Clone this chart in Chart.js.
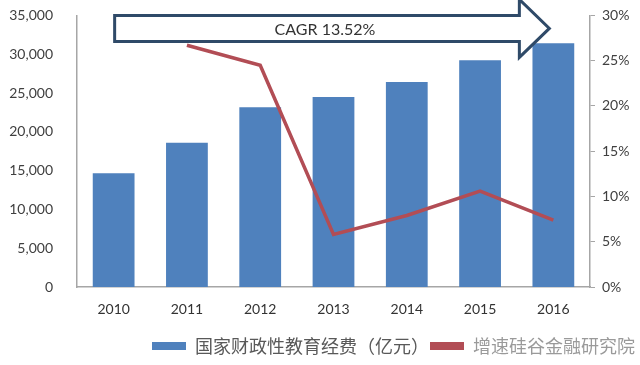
<!DOCTYPE html>
<html>
<head>
<meta charset="utf-8">
<script src="https://cdn.jsdelivr.net/npm/chart.js@4"></script>
<style>
  html, body { margin: 0; padding: 0; background: #fff; }
  #wrap { width: 640px; height: 365px; }
</style>
</head>
<body>
<div id="wrap"><canvas id="c" width="640" height="365"></canvas></div>
<script>
const years = ["2010", "2011", "2012", "2013", "2014", "2015", "2016"];
const funding = [14670, 18587, 23148, 24488, 26421, 29221, 31396];
const growth = [null, 26.7, 24.5, 5.8, 7.9, 10.6, 7.4];
const fundingLabel = "国家财政性教育经费（亿元）";
const growthLabel = "增速硅谷金融研究院";
const cagrText = "CAGR 13.52%";

const tickFont = { family: "Lato, 'Open Sans', sans-serif", size: 14 };
const axisGray = "#a6a6a6";

// big outlined arrow over the top of the plot
const arrowPlugin = {
    id: "cagrArrow",
    afterDatasetsDraw(chart) {
        const ctx = chart.ctx;
        const x = chart.scales.x;
        const area = chart.chartArea;
        const left = x.getPixelForValue(0) + 1;
        const tip = x.getPixelForValue(6) - 4;
        const headBase = tip - 30;
        const top = area.top;
        const bottom = area.top + 26;
        const mid = (top + bottom) / 2;
        const headHalf = 29;

        ctx.save();
        ctx.beginPath();
        ctx.moveTo(left, top);
        ctx.lineTo(headBase, top);
        ctx.lineTo(headBase, mid - headHalf);
        ctx.lineTo(tip, mid);
        ctx.lineTo(headBase, mid + headHalf);
        ctx.lineTo(headBase, bottom);
        ctx.lineTo(left, bottom);
        ctx.closePath();
        ctx.fillStyle = "#ffffff";
        ctx.fill();
        ctx.lineWidth = 3;
        ctx.strokeStyle = "#2f4a68";
        ctx.lineJoin = "miter";
        ctx.stroke();

        ctx.fillStyle = "#333333";
        ctx.font = "16px Lato, 'Open Sans', sans-serif";
        ctx.textAlign = "center";
        ctx.textBaseline = "middle";
        ctx.fillText(cagrText, (left + headBase) / 2 + 8, mid + 1);
        ctx.restore();
    }
};

new Chart(document.getElementById("c"), {
    type: "bar",
    data: {
        labels: years,
        datasets: [
            {
                type: "line",
                label: growthLabel,
                data: growth,
                yAxisID: "y1",
                borderColor: "#b24d55",
                backgroundColor: "#b24d55",
                borderWidth: 3.5,
                pointRadius: 0,
                tension: 0,
                order: 1
            },
            {
                type: "bar",
                label: fundingLabel,
                data: funding,
                yAxisID: "y",
                backgroundColor: "#4f81bd",
                categoryPercentage: 0.57,
                barPercentage: 1,
                order: 2
            }
        ]
    },
    options: {
        responsive: false,
        animation: false,
        layout: { padding: { top: 2, bottom: 0, left: 0, right: 4 } },
        plugins: {
            tooltip: { enabled: false },
            legend: {
                position: "bottom",
                align: "end",
                reverse: true,
                labels: {
                    font: { family: "'Noto Sans CJK SC', sans-serif", size: 18 },
                    boxWidth: 34,
                    boxHeight: 8,
                    padding: 1,
                    generateLabels(chart) {
                        return chart.data.datasets.map((ds, i) => ({
                            text: ds.label,
                            fillStyle: ds.backgroundColor,
                            strokeStyle: ds.backgroundColor,
                            lineWidth: 0,
                            fontColor: i === 0 ? "#9a9a9a" : "#595959",
                            datasetIndex: i,
                            hidden: false
                        }));
                    }
                }
            }
        },
        scales: {
            x: {
                grid: { display: false, drawTicks: false },
                border: { display: true, color: axisGray, width: 1.5 },
                ticks: { color: "#333", font: tickFont, padding: 14 },
                afterFit(s) { s.height = 49; }
            },
            y: {
                position: "left",
                min: 0,
                max: 35000,
                // invisible tick marks give the gap between labels and axis line
                grid: { display: false, drawTicks: true, tickLength: 24 },
                border: { display: true, color: axisGray, width: 1.5 },
                ticks: {
                    stepSize: 5000,
                    color: "#404040",
                    font: tickFont,
                    padding: 0,
                    callback: v => v.toLocaleString("en-US")
                },
                afterFit(s) { s.width = 77; }
            },
            y1: {
                position: "right",
                min: 0,
                max: 30,
                grid: { display: true, drawOnChartArea: false, drawTicks: true, tickLength: 5, color: axisGray },
                border: { display: true, color: axisGray, width: 1.5 },
                ticks: {
                    stepSize: 5,
                    color: "#404040",
                    font: tickFont,
                    padding: 7,
                    callback: v => v + "%"
                },
                afterFit(s) { s.width = 46; }
            }
        }
    },
    plugins: [arrowPlugin]
});
</script>
</body>
</html>
